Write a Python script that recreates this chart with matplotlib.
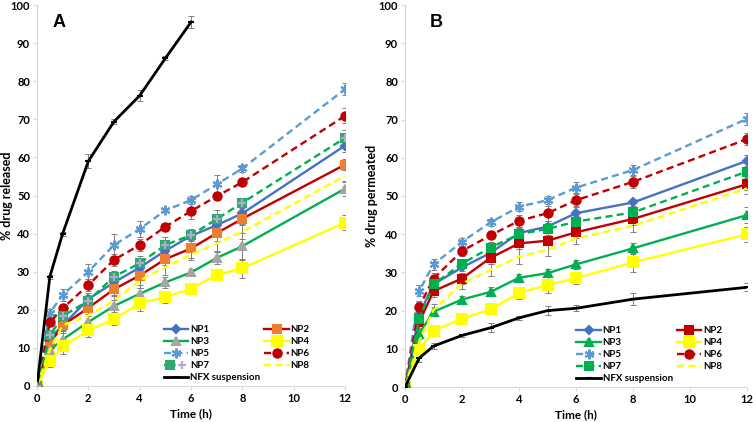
import matplotlib
matplotlib.use('Agg')
import matplotlib.pyplot as plt
from matplotlib.legend_handler import HandlerTuple

plt.rcParams['font.family'] = ['Lato', 'DejaVu Sans']

# time points (h)
time_a = [0, 0.5, 1, 2, 3, 4, 5, 6, 7, 8, 12]
time_a_nfx = [0, 0.5, 1, 2, 3, 4, 5, 6]
time_b = [0, 0.5, 1, 2, 3, 4, 5, 6, 8, 12]

# panel A: % drug released
rel_np1 = [0, 12.5, 15.9, 22.8, 27.2, 31.1, 35.5, 39.4, 42.2, 45.3, 63.1]
rel_np2 = [0, 11.1, 15.9, 20.5, 25.4, 29.0, 33.3, 36.1, 40.1, 43.9, 58.1]
rel_np3 = [0, 9.4, 12.2, 16.8, 21.0, 24.2, 27.2, 29.8, 33.6, 36.7, 51.8]
rel_np4 = [0, 6.6, 10.4, 14.6, 17.5, 21.7, 23.3, 25.5, 29.2, 30.9, 42.9]
rel_np5 = [0, 19.2, 23.9, 30.0, 37.0, 41.2, 46.1, 48.8, 52.9, 57.1, 77.9]
rel_np6 = [0, 16.7, 20.4, 26.5, 33.1, 37.0, 41.8, 45.9, 49.8, 53.5, 70.9]
rel_np7 = [0, 13.3, 18.3, 22.4, 28.7, 32.2, 37.0, 39.6, 43.8, 48.1, 65.1]
rel_np8 = [0, 9.5, 15.9, 18.5, 22.4, 27.7, 31.2, 34.5, 37.4, 40.5, 55.1]
rel_nfx = [0, 28.7, 40.0, 59.0, 69.4, 76.2, 86.0, 95.5]

rel_np1_err = [0, 1.5, 1.5, 1.5, 1.5, 2.0, 1.2, 1.0, 1.2, 1.5, 1.8]
rel_np2_err = [0, 1.5, 1.2, 1.5, 1.8, 2.5, 1.5, 2.5, 2.0, 1.5, 1.5]
rel_np3_err = [0, 2.5, 3.0, 1.5, 1.5, 1.5, 1.5, 1.0, 1.5, 3.5, 2.0]
rel_np4_err = [0, 1.5, 2.0, 1.8, 1.5, 2.0, 1.5, 1.0, 1.0, 2.5, 2.0]
rel_np5_err = [0, 1.0, 1.5, 2.0, 2.8, 2.2, 0.5, 1.0, 2.5, 1.0, 1.5]
rel_np6_err = [0, 1.0, 1.2, 1.5, 1.5, 1.5, 1.0, 2.0, 1.0, 1.0, 2.0]
rel_np7_err = [0, 1.5, 1.5, 1.5, 1.5, 1.8, 2.0, 1.5, 2.5, 1.0, 2.0]
rel_np8_err = [0, 1.5, 2.0, 1.5, 1.5, 2.0, 2.0, 1.5, 2.0, 1.8, 1.5]
rel_nfx_err = [0, 0.5, 0.5, 1.8, 0.7, 1.5, 0.5, 1.5]

# panel B: % drug permeated
perm_np1 = [0, 19.0, 26.9, 31.3, 35.1, 40.3, 42.0, 45.5, 48.3, 59.2]
perm_np2 = [0, 17.0, 25.1, 28.4, 33.8, 37.6, 38.3, 40.5, 44.0, 53.1]
perm_np3 = [0, 14.0, 19.7, 22.9, 24.9, 28.6, 29.8, 32.1, 36.3, 45.0]
perm_np4 = [0, 9.8, 14.7, 17.9, 20.3, 24.6, 26.7, 28.5, 32.6, 40.0]
perm_np5 = [0, 25.2, 32.1, 38.0, 43.1, 47.2, 48.9, 52.2, 56.8, 70.2]
perm_np6 = [0, 21.0, 28.4, 35.6, 39.7, 43.5, 45.5, 48.9, 53.7, 64.9]
perm_np7 = [0, 17.9, 26.9, 32.3, 36.5, 40.0, 41.4, 43.3, 45.7, 56.4]
perm_np8 = [0, 12.0, 20.1, 27.1, 30.6, 34.1, 35.9, 38.9, 42.2, 52.0]
perm_nfx = [0, 7.6, 10.7, 13.5, 15.5, 18.1, 20.0, 20.6, 23.0, 26.1]

perm_np1_err = [0, 1.5, 1.5, 1.0, 1.5, 1.5, 1.5, 1.5, 1.0, 1.5]
perm_np2_err = [0, 1.5, 1.5, 1.5, 1.5, 1.5, 1.2, 1.5, 1.5, 1.5]
perm_np3_err = [0, 1.5, 1.2, 1.0, 1.2, 1.0, 1.0, 1.2, 1.5, 2.0]
perm_np4_err = [0, 1.5, 1.0, 1.2, 1.0, 1.5, 2.0, 1.5, 2.5, 2.0]
perm_np5_err = [0, 1.5, 1.5, 1.0, 1.0, 1.2, 1.0, 1.5, 1.2, 1.5]
perm_np6_err = [0, 1.5, 1.5, 1.2, 1.0, 1.5, 2.0, 1.5, 1.5, 1.5]
perm_np7_err = [0, 1.5, 1.5, 1.2, 1.5, 1.5, 1.5, 1.5, 1.5, 1.5]
perm_np8_err = [0, 1.5, 1.5, 1.5, 1.5, 2.0, 1.5, 1.5, 1.5, 1.5]
perm_nfx_err = [0, 1.0, 0.8, 0.5, 1.2, 0.5, 1.2, 0.8, 1.5, 1.0]

labels = ['NP1', 'NP2', 'NP3', 'NP4', 'NP5', 'NP6', 'NP7', 'NP8', 'NFX suspension']

BLUE = '#4472C4'
RED = '#C00000'
ORANGE = '#ED7D31'
GREEN = '#00B050'
YELLOW = '#FFFF00'
LBLUE = '#5B9BD5'
GRAY = '#A5A5A5'
STAR = (6, 2, 0)


def draw(ax, t, y, err, color, ls, marker, mfc, ms, lw=1.7):
    ax.errorbar(t, y, yerr=err, fmt='none', ecolor='#7F7F7F', elinewidth=0.7,
                capsize=2, capthick=0.7, zorder=2)
    line, = ax.plot(t, y, color=color, ls=ls, lw=lw, marker=marker, ms=ms,
                    mfc=mfc, mec=mfc, mew=1.5, zorder=3,
                    dashes=(3, 1.8) if ls == '--' else (None, None))
    return line


def style_axes(ax, ylabel, ylab_x):
    ax.set_xlim(0, 12)
    ax.set_ylim(0, 100)
    ax.set_xticks(range(0, 13, 2))
    ax.set_yticks(range(0, 101, 10))
    ax.spines['top'].set_visible(False)
    ax.spines['right'].set_visible(False)
    for s in ['left', 'bottom']:
        ax.spines[s].set_color('#D9D9D9')
        ax.spines[s].set_linewidth(0.8)
    ax.tick_params(length=3, color='#D9D9D9', labelsize=8, pad=2)
    for lab in ax.get_xticklabels() + ax.get_yticklabels():
        lab.set_fontweight('bold')
    ax.set_xlabel('Time (h)', fontsize=8.5, fontweight='bold', labelpad=3)
    ax.set_ylabel(ylabel, fontsize=9, fontweight='bold')
    ax.yaxis.set_label_coords(ylab_x, 0.5)


def make_legend(ax, handles, x):
    # column-first order so that rows read NP1 NP2 / NP3 NP4 ...
    order = [0, 2, 4, 6, 8, 1, 3, 5, 7]
    leg = ax.legend([handles[i] for i in order], [labels[i] for i in order],
                    ncol=2, loc='lower left', bbox_to_anchor=(x, 0.0),
                    frameon=False, fontsize=7, handlelength=2.5,
                    handletextpad=0.2, columnspacing=0.4, labelspacing=0.3,
                    borderpad=0.2, borderaxespad=0.2,
                    handler_map={tuple: HandlerTuple(ndivide=None, pad=0)})
    for txt in leg.get_texts():
        txt.set_fontweight('bold')


fig = plt.figure(figsize=(7.53, 4.22), dpi=100)
ax1 = fig.add_axes([37 / 753, 1 - 386 / 422, 308 / 753, 381 / 422])
ax2 = fig.add_axes([405 / 753, 1 - 387 / 422, 342 / 753, 382 / 422])

# ---- panel A ----
h = []
h.append(draw(ax1, time_a, rel_np1, rel_np1_err, BLUE, '-', 'D', BLUE, 4.5))
h.append(draw(ax1, time_a, rel_np2, rel_np2_err, RED, '-', 's', ORANGE, 6))
h.append(draw(ax1, time_a, rel_np3, rel_np3_err, GREEN, '-', '^', GRAY, 6))
h.append(draw(ax1, time_a, rel_np4, rel_np4_err, YELLOW, '-', 's', YELLOW, 6.5))
h.append(draw(ax1, time_a, rel_np5, rel_np5_err, LBLUE, '--', STAR, LBLUE, 7))
h.append(draw(ax1, time_a, rel_np6, rel_np6_err, RED, '--', 'o', RED, 6))
np7 = draw(ax1, time_a, rel_np7, rel_np7_err, GREEN, '--', 's', '#2EAA6E', 6)
plus, = ax1.plot(time_a, rel_np7, ls='none', marker='+', ms=5.5, mew=1.6,
                 color='#B4A7D6', zorder=4)
h.append((np7, plus))
h.append(draw(ax1, time_a, rel_np8, rel_np8_err, YELLOW, '--', None, YELLOW, 0))
h.append(draw(ax1, time_a_nfx, rel_nfx, rel_nfx_err, 'black', '-', '_', 'black', 5, lw=2))
style_axes(ax1, '% drug released', -0.078)
make_legend(ax1, h, 0.40)
ax1.text(0.049, 0.955, 'A', transform=ax1.transAxes, fontsize=13,
         fontweight='bold', family='Liberation Sans', ha='left', va='center')

# ---- panel B ----
h = []
h.append(draw(ax2, time_b, perm_np1, perm_np1_err, BLUE, '-', 'D', BLUE, 4.5))
h.append(draw(ax2, time_b, perm_np2, perm_np2_err, RED, '-', 's', RED, 6))
h.append(draw(ax2, time_b, perm_np3, perm_np3_err, GREEN, '-', '^', GREEN, 6))
h.append(draw(ax2, time_b, perm_np4, perm_np4_err, YELLOW, '-', 's', YELLOW, 6.5))
h.append(draw(ax2, time_b, perm_np5, perm_np5_err, LBLUE, '--', STAR, LBLUE, 7))
h.append(draw(ax2, time_b, perm_np6, perm_np6_err, RED, '--', 'o', RED, 6))
h.append(draw(ax2, time_b, perm_np7, perm_np7_err, GREEN, '--', 's', GREEN, 6))
h.append(draw(ax2, time_b, perm_np8, perm_np8_err, YELLOW, '--', None, YELLOW, 0))
h.append(draw(ax2, time_b, perm_nfx, perm_nfx_err, 'black', '-', '_', 'black', 5, lw=2))
style_axes(ax2, '% drug permeated', -0.08)
make_legend(ax2, h, 0.49)
ax2.text(0.073, 0.955, 'B', transform=ax2.transAxes, fontsize=13,
         fontweight='bold', family='Liberation Sans', ha='left', va='center')

fig.savefig('out.png', dpi=100)
